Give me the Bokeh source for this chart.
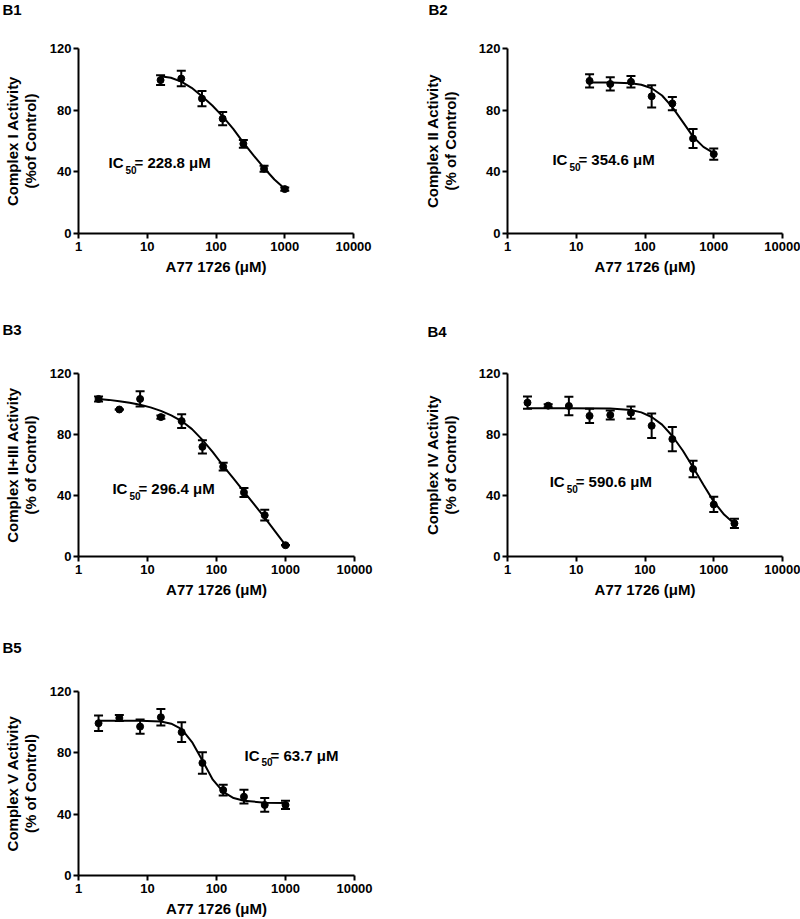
from bokeh.plotting import figure
from bokeh.models import (Range1d, FixedTicker, BasicTickFormatter, Whisker, TeeHead,
                          ColumnDataSource, Label, Title)
from bokeh.layouts import column, row
from bokeh.embed import file_html
from bokeh.resources import INLINE

FONT = "Liberation Sans"

# ---------------- data ----------------
x_ticks = [1, 10, 100, 1000, 10000]
y_ticks = [0, 40, 80, 120]
x_label = "A77 1726 (\u03bcM)"

panel_names = ["B1", "B2", "B3", "B4", "B5"]
y_labels = ["Complex I Activity\n(%of Control)",
            "Complex II Activity\n(% of Control)",
            "Complex II+III Activity\n(% of Control)",
            "Complex IV Activity\n(% of Control)",
            "Complex V Activity\n(% of Control)"]
ic50_values = ["228.8", "354.6", "296.4", "590.6", "63.7"]
# anchor of the IC50 text (data coordinates: concentration, activity)
ic50_anchor_x = [2.73, 4.5, 3.1, 4.1, 255]
ic50_anchor_y = [46, 48, 44.5, 49, 78.4]

conc_b1 = [15.625, 31.25, 62.5, 125, 250, 500, 1000]
act_b1 = [99.5, 100.5, 87.5, 74.5, 58.2, 42.0, 28.8]
err_b1 = [3.2, 5.0, 5.0, 4.3, 2.5, 2.0, 1.0]
fit_x_b1 = [15.625, 22.1, 31.25, 44.2, 62.5, 88.4, 125, 177, 250, 354, 500, 707, 1000]
fit_y_b1 = [102, 101, 98.5, 94.5, 89, 83, 76, 68, 59, 50.5, 42.5, 35, 29]

conc_b2 = [15.625, 31.25, 62.5, 125, 250, 500, 1000]
act_b2 = [99.0, 97.0, 98.4, 89.0, 84.3, 61.6, 51.5]
err_b2 = [4.3, 4.3, 3.7, 7.2, 4.3, 6.2, 3.6]
fit_x_b2 = [15.625, 31.25, 62.5, 88.4, 125, 177, 250, 354, 500, 707, 1000]
fit_y_b2 = [98, 98, 97.5, 96.5, 94.2, 89.5, 82, 72.4, 62.8, 56.2, 52.2]

conc_b3 = [1.953, 3.906, 7.8125, 15.625, 31.25, 62.5, 125, 250, 500, 1000]
act_b3 = [103.3, 96.4, 103.3, 91.4, 88.8, 71.9, 58.9, 42.0, 27.1, 7.4]
err_b3 = [1.7, 0.0, 5.0, 1.0, 4.5, 4.3, 2.5, 3.0, 3.5, 0.0]
fit_x_b3 = [1.953, 2.76, 3.906, 5.52, 7.8125, 11.05, 15.625, 22.1, 31.25, 44.2,
            62.5, 88.4, 125, 177, 250, 354, 500, 707, 1000]
fit_y_b3 = [103.3, 102.7, 101.8, 100.8, 99.5, 97.8, 95.5, 92.5, 88.8, 83.5,
            76.5, 68.5, 59.5, 51, 42.5, 34, 25.5, 16.5, 7.5]

conc_b4 = [1.953, 3.906, 7.8125, 15.625, 31.25, 62.5, 125, 250, 500, 1000, 2000]
act_b4 = [100.9, 98.9, 98.7, 92.2, 92.8, 94.3, 85.7, 77.0, 57.4, 34.1, 21.7]
err_b4 = [4.0, 1.0, 6.0, 4.7, 3.0, 4.0, 8.0, 8.0, 5.4, 5.0, 3.0]
fit_x_b4 = [1.953, 7.8125, 31.25, 62.5, 88.4, 125, 177, 250, 354, 500, 707, 1000, 1414, 2000]
fit_y_b4 = [97.2, 97.2, 97.0, 96.0, 94.5, 91.5, 86.5, 79.0, 69.5, 58.5, 47.0, 36.0, 27.5, 21.5]

conc_b5 = [1.953, 3.906, 7.8125, 15.625, 31.25, 62.5, 125, 250, 500, 1000]
act_b5 = [99.3, 102.7, 97.1, 103.2, 93.5, 73.4, 55.7, 51.4, 46.0, 46.0]
err_b5 = [5.0, 2.0, 4.7, 5.4, 6.5, 7.0, 3.5, 4.5, 4.5, 2.7]
fit_x_b5 = [1.953, 7.8125, 15.625, 22.1, 31.25, 44.2, 62.5, 88.4, 125, 177, 250, 500, 1000]
fit_y_b5 = [101, 101, 100.5, 99, 95.5, 87, 75, 62.5, 54.5, 50.5, 48.8, 47.5, 47.3]

concs = [conc_b1, conc_b2, conc_b3, conc_b4, conc_b5]
acts = [act_b1, act_b2, act_b3, act_b4, act_b5]
errs = [err_b1, err_b2, err_b3, err_b4, err_b5]
fit_xs = [fit_x_b1, fit_x_b2, fit_x_b3, fit_x_b4, fit_x_b5]
fit_ys = [fit_y_b1, fit_y_b2, fit_y_b3, fit_y_b4, fit_y_b5]

# ---------------- layout (figure size and frame placement) ----------------
# (width, height, border_left, border_top, frame_w, frame_h, ylabel_standoff,
#  tag_offset, tag_gap)
geom = [
    (400, 290, 78, 48, 275, 185, 8, -76, 26),
    (400, 290, 107, 48, 275, 185, 17, -79, 26),
    (400, 310, 78, 83, 276, 184, 8, -76, 31),
    (400, 310, 107, 83, 275, 184, 17, -80, 29),
    (400, 319, 78, 91, 276, 185, 8, -76, 31),
]


def make_panel(i):
    w, h, bl, bt, fw, fh, ystand, toff, tgap = geom[i]
    p = figure(width=w, height=h, x_axis_type="log",
               x_range=Range1d(1, 10000), y_range=Range1d(0, 120),
               output_backend="svg", toolbar_location=None,
               min_border_left=bl, min_border_top=bt,
               min_border_right=w - bl - fw, min_border_bottom=h - bt - fh)
    p.outline_line_color = None
    p.grid.visible = False
    p.background_fill_color = "white"
    p.border_fill_color = "white"

    # panel tag (B1 ... B5) as the figure title, top-left
    p.title.text = panel_names[i]
    p.title.align = "left"
    p.title.vertical_align = "top"
    p.title.offset = toff
    p.title.standoff = 0
    p.title.text_font = FONT
    p.title.text_font_style = "bold"
    p.title.text_font_size = "15px"
    p.title.text_color = "black"
    # empty spacer between the tag and the plotting area
    p.add_layout(Title(text=" ", text_font_size="1px", standoff=tgap), "above")

    for ax in (p.xaxis[0], p.yaxis[0]):
        ax.axis_line_width = 2
        ax.axis_line_color = "black"
        ax.major_tick_line_width = 2
        ax.major_tick_line_color = "black"
        ax.major_tick_in = 0
        ax.major_tick_out = 5
        ax.minor_tick_line_color = None
        ax.major_label_text_font = FONT
        ax.major_label_text_font_style = "bold"
        ax.major_label_text_font_size = "13px"
        ax.major_label_text_color = "black"
        ax.axis_label_text_font = FONT
        ax.axis_label_text_font_style = "bold"
        ax.axis_label_text_font_size = "15px"
        ax.axis_label_text_color = "black"

    p.xaxis.ticker = FixedTicker(ticks=x_ticks)
    p.xaxis.formatter = BasicTickFormatter(use_scientific=False)
    p.xaxis.major_label_standoff = 3
    p.xaxis.axis_label = x_label
    p.xaxis.axis_label_standoff = 4

    p.yaxis.ticker = FixedTicker(ticks=y_ticks)
    p.yaxis.major_label_standoff = 2
    p.yaxis.axis_label = y_labels[i]
    p.yaxis.axis_label_standoff = ystand
    p.yaxis.axis_label_text_line_height = 1.07

    # fitted curve
    p.line(fit_xs[i], fit_ys[i], line_color="black", line_width=2)

    # error bars
    lo = [a - e for a, e in zip(acts[i], errs[i])]
    up = [a + e for a, e in zip(acts[i], errs[i])]
    src = ColumnDataSource(dict(x=concs[i], lower=lo, upper=up))
    p.add_layout(Whisker(base="x", lower="lower", upper="upper", dimension="height",
                         source=src, line_width=2, line_color="black",
                         upper_head=TeeHead(size=9, line_width=2, line_color="black"),
                         lower_head=TeeHead(size=9, line_width=2, line_color="black")))

    # data points
    p.scatter(concs[i], acts[i], marker="circle", size=7, fill_color="black",
              line_color="black")

    # IC50 text: "IC" + subscript "50" + "= value µM"
    ax_, ay_ = ic50_anchor_x[i], ic50_anchor_y[i]
    common = dict(text_font=FONT, text_font_style="bold", text_color="black",
                  text_baseline="middle", text_align="left")
    p.add_layout(Label(x=ax_, y=ay_, text="IC", text_font_size="15px", **common))
    p.add_layout(Label(x=ax_, y=ay_, x_offset=17, y_offset=-7, text="50",
                       text_font_size="10px", **common))
    p.add_layout(Label(x=ax_, y=ay_, x_offset=26, text="= " + ic50_values[i] + " \u03bcM",
                       text_font_size="15px", **common))
    return p


figs = [make_panel(i) for i in range(5)]
layout = column(row(figs[0], figs[1]), row(figs[2], figs[3]), row(figs[4]))

with open("out.html", "w") as f:
    f.write(file_html(layout, INLINE))
